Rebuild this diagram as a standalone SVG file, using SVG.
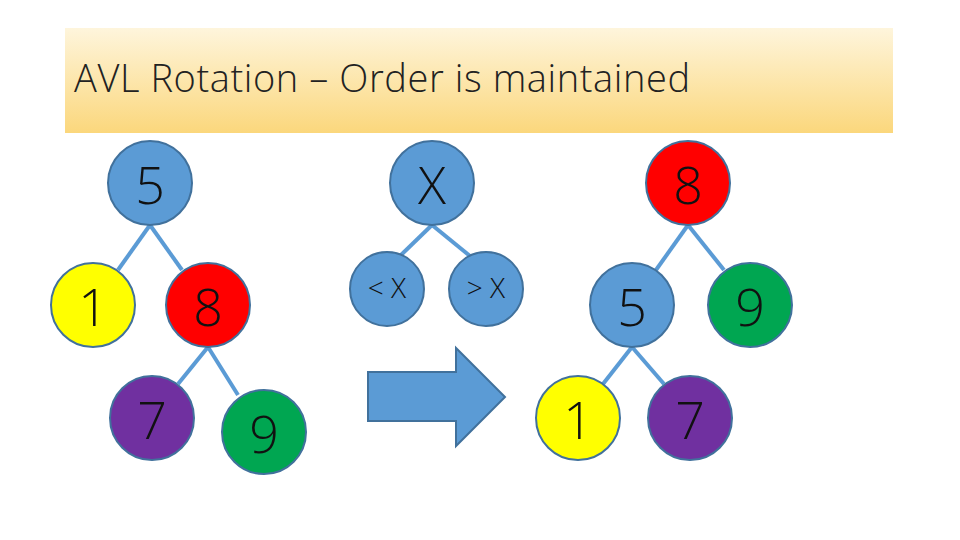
<svg xmlns="http://www.w3.org/2000/svg" width="960" height="540" viewBox="0 0 960 540">
<defs>
<linearGradient id="tg" x1="0" y1="0" x2="0" y2="1"><stop offset="0" stop-color="#fef5dc"/><stop offset="1" stop-color="#fbd77c"/></linearGradient>
<style>
.n{stroke:#41719c;stroke-width:2}
.t{font-family:"Open Sans","Liberation Sans",Arial,sans-serif;font-weight:300;font-size:52px;fill:#111;text-anchor:middle;dominant-baseline:central}
.s{font-size:28px}
.e{stroke:#5b9bd5;stroke-width:4}
</style>
</defs>
<rect x="65" y="28" width="828" height="105" fill="url(#tg)"/>
<text x="74" y="92" font-family="'Open Sans','Liberation Sans',sans-serif" font-weight="300" font-size="38" fill="#222" textLength="616">AVL Rotation – Order is maintained</text>
<g id="connectors">
<line class="e" x1="150" y1="225" x2="118" y2="270"/>
<line class="e" x1="150" y1="225" x2="182" y2="270"/>
<line class="e" x1="208" y1="347" x2="178" y2="384"/>
<line class="e" x1="208" y1="347" x2="238" y2="395"/>
<line class="e" x1="432" y1="225" x2="400" y2="256"/>
<line class="e" x1="432" y1="225" x2="470" y2="256"/>
<line class="e" x1="688" y1="225" x2="656" y2="270"/>
<line class="e" x1="688" y1="225" x2="724" y2="270"/>
<line class="e" x1="632" y1="347" x2="603" y2="384"/>
<line class="e" x1="632" y1="347" x2="664" y2="384"/>
</g>
<g id="n5"><circle class="n" cx="150" cy="183" r="42" fill="#5b9bd5"/><text class="t" x="150" y="183">5</text></g>
<g id="n1"><circle class="n" cx="93" cy="305" r="42" fill="#ffff00"/><text class="t" x="93" y="305">1</text></g>
<g id="n8"><circle class="n" cx="208" cy="305" r="42" fill="#ff0000"/><text class="t" x="208" y="305">8</text></g>
<g id="n7"><circle class="n" cx="152" cy="418" r="42" fill="#7030a0"/><text class="t" x="152" y="418">7</text></g>
<g id="n9"><circle class="n" cx="264" cy="432" r="42" fill="#00a651"/><text class="t" x="264" y="432">9</text></g>
<g id="nX"><circle class="n" cx="432" cy="183" r="42" fill="#5b9bd5"/><text class="t" x="432" y="183">X</text></g>
<g id="nLX"><circle class="n" cx="387" cy="289" r="37" fill="#5b9bd5"/><text class="t s" x="387" y="287">&lt; X</text></g>
<g id="nGX"><circle class="n" cx="486" cy="289" r="37" fill="#5b9bd5"/><text class="t s" x="486" y="287">&gt; X</text></g>
<g id="arrow"><polygon class="n" points="368,372 456,372 456,348 505,397 456,446 456,421 368,421" fill="#5b9bd5"/></g>
<g id="r8"><circle class="n" cx="688" cy="183" r="42" fill="#ff0000"/><text class="t" x="688" y="183">8</text></g>
<g id="r5"><circle class="n" cx="632" cy="305" r="42" fill="#5b9bd5"/><text class="t" x="632" y="305">5</text></g>
<g id="r9"><circle class="n" cx="750" cy="305" r="42" fill="#00a651"/><text class="t" x="750" y="305">9</text></g>
<g id="r1"><circle class="n" cx="578" cy="418" r="42" fill="#ffff00"/><text class="t" x="578" y="418">1</text></g>
<g id="r7"><circle class="n" cx="690" cy="418" r="42" fill="#7030a0"/><text class="t" x="690" y="418">7</text></g>
</svg>
